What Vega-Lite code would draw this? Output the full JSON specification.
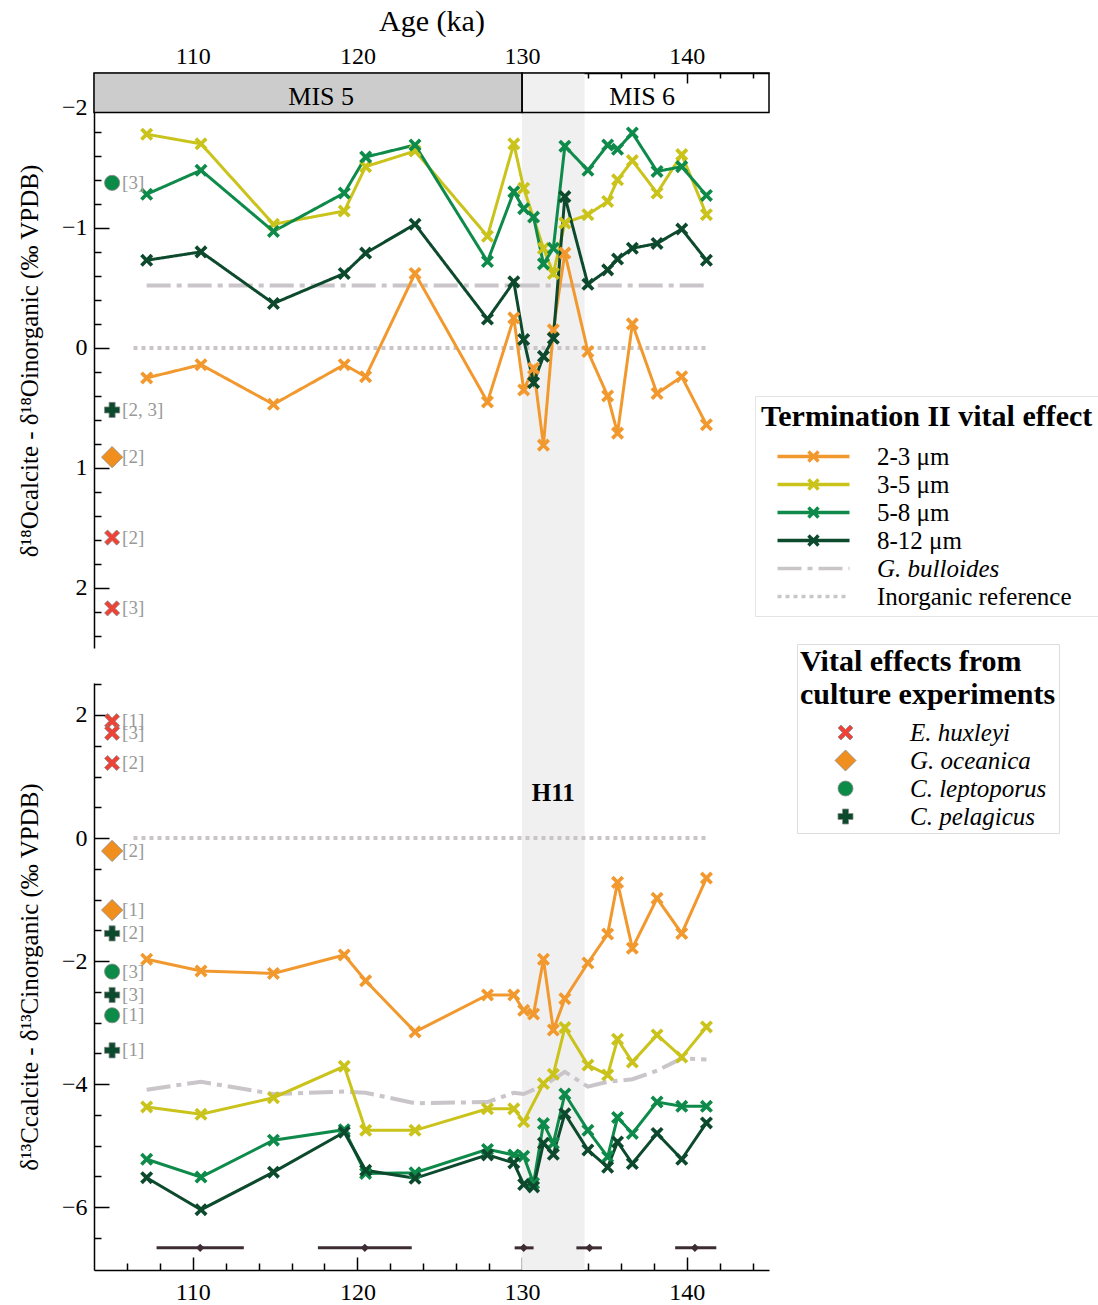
{
"$schema":"https://vega.github.io/schema/vega-lite/v6.json",
"padding":{"left":17,"top":6,"right":0,"bottom":0},
"background":"white",
"bounds":"flush",
"spacing":35,
"config":{
 "font":"Liberation Serif",
 "view":{"stroke":null},
 "axis":{"labelFont":"Liberation Serif","labelFontSize":24,"labelColor":"black","titleFont":"Liberation Serif","titleFontSize":25,"titleFontWeight":"normal","titleColor":"black","domainColor":"black","domainWidth":1.5,"tickColor":"black","tickWidth":1.5,"grid":false,"labelFlush":false},
 "legend":{"titleFont":"Liberation Serif","labelFont":"Liberation Serif","titleColor":"black","labelColor":"black"},
 "text":{"font":"Liberation Serif"}
},
"datasets":{
 "mis":[{"m":"MIS 5","a":104,"a2":130,"y1":-2.29,"y2":-1.96,"lx":117.8,"ly":-2.09},{"m":"MIS 6","a":130,"a2":145,"y1":-2.29,"y2":-1.96,"lx":137.3,"ly":-2.09}],
 "band":[{"a":130,"a2":133.8,"y1":-2.29,"y2":2.8}],
 "oref":[{"a":107.2,"s":"G. bulloides","v":-0.52},{"a":141.2,"s":"G. bulloides","v":-0.52},{"a":106.4,"s":"Inorganic reference","v":0},{"a":141.3,"s":"Inorganic reference","v":0}],
 "o":[
 {"a":107.2,"s":"2-3 μm","v":0.25},{"a":110.5,"s":"2-3 μm","v":0.14},{"a":114.9,"s":"2-3 μm","v":0.47},{"a":119.2,"s":"2-3 μm","v":0.14},{"a":120.5,"s":"2-3 μm","v":0.24},{"a":123.5,"s":"2-3 μm","v":-0.62},{"a":127.9,"s":"2-3 μm","v":0.45},{"a":129.5,"s":"2-3 μm","v":-0.25},{"a":130.1,"s":"2-3 μm","v":0.35},{"a":130.7,"s":"2-3 μm","v":0.17},{"a":131.3,"s":"2-3 μm","v":0.81},{"a":131.9,"s":"2-3 μm","v":-0.15},{"a":132.6,"s":"2-3 μm","v":-0.79},{"a":134.0,"s":"2-3 μm","v":0.03},{"a":135.2,"s":"2-3 μm","v":0.40},{"a":135.8,"s":"2-3 μm","v":0.71},{"a":136.7,"s":"2-3 μm","v":-0.20},{"a":138.2,"s":"2-3 μm","v":0.38},{"a":139.7,"s":"2-3 μm","v":0.24},{"a":141.2,"s":"2-3 μm","v":0.64},
 {"a":107.2,"s":"3-5 μm","v":-1.78},{"a":110.5,"s":"3-5 μm","v":-1.70},{"a":114.9,"s":"3-5 μm","v":-1.03},{"a":119.2,"s":"3-5 μm","v":-1.14},{"a":120.5,"s":"3-5 μm","v":-1.51},{"a":123.5,"s":"3-5 μm","v":-1.64},{"a":127.9,"s":"3-5 μm","v":-0.93},{"a":129.5,"s":"3-5 μm","v":-1.70},{"a":130.1,"s":"3-5 μm","v":-1.33},{"a":131.3,"s":"3-5 μm","v":-0.83},{"a":131.9,"s":"3-5 μm","v":-0.62},{"a":132.6,"s":"3-5 μm","v":-1.04},{"a":134.0,"s":"3-5 μm","v":-1.11},{"a":135.2,"s":"3-5 μm","v":-1.22},{"a":135.8,"s":"3-5 μm","v":-1.40},{"a":136.7,"s":"3-5 μm","v":-1.56},{"a":138.2,"s":"3-5 μm","v":-1.29},{"a":139.7,"s":"3-5 μm","v":-1.61},{"a":141.2,"s":"3-5 μm","v":-1.11},
 {"a":107.2,"s":"5-8 μm","v":-1.28},{"a":110.5,"s":"5-8 μm","v":-1.48},{"a":114.9,"s":"5-8 μm","v":-0.97},{"a":119.2,"s":"5-8 μm","v":-1.29},{"a":120.5,"s":"5-8 μm","v":-1.59},{"a":123.5,"s":"5-8 μm","v":-1.69},{"a":127.9,"s":"5-8 μm","v":-0.72},{"a":129.5,"s":"5-8 μm","v":-1.30},{"a":130.1,"s":"5-8 μm","v":-1.16},{"a":130.7,"s":"5-8 μm","v":-1.09},{"a":131.3,"s":"5-8 μm","v":-0.70},{"a":131.9,"s":"5-8 μm","v":-0.83},{"a":132.6,"s":"5-8 μm","v":-1.68},{"a":134.0,"s":"5-8 μm","v":-1.48},{"a":135.2,"s":"5-8 μm","v":-1.69},{"a":135.8,"s":"5-8 μm","v":-1.655},{"a":136.7,"s":"5-8 μm","v":-1.79},{"a":138.2,"s":"5-8 μm","v":-1.47},{"a":139.7,"s":"5-8 μm","v":-1.51},{"a":141.2,"s":"5-8 μm","v":-1.27},
 {"a":107.2,"s":"8-12 μm","v":-0.73},{"a":110.5,"s":"8-12 μm","v":-0.80},{"a":114.9,"s":"8-12 μm","v":-0.37},{"a":119.2,"s":"8-12 μm","v":-0.62},{"a":120.5,"s":"8-12 μm","v":-0.79},{"a":123.5,"s":"8-12 μm","v":-1.03},{"a":127.9,"s":"8-12 μm","v":-0.24},{"a":129.5,"s":"8-12 μm","v":-0.55},{"a":130.1,"s":"8-12 μm","v":-0.07},{"a":130.7,"s":"8-12 μm","v":0.29},{"a":131.3,"s":"8-12 μm","v":0.07},{"a":131.9,"s":"8-12 μm","v":-0.08},{"a":132.6,"s":"8-12 μm","v":-1.26},{"a":134.0,"s":"8-12 μm","v":-0.53},{"a":135.2,"s":"8-12 μm","v":-0.65},{"a":135.8,"s":"8-12 μm","v":-0.74},{"a":136.7,"s":"8-12 μm","v":-0.83},{"a":138.2,"s":"8-12 μm","v":-0.87},{"a":139.7,"s":"8-12 μm","v":-0.99},{"a":141.2,"s":"8-12 μm","v":-0.73}
 ],
 "cref":[{"a":107.2,"s":"G. bulloides","v":-4.09},{"a":110.5,"s":"G. bulloides","v":-3.96},{"a":114.9,"s":"G. bulloides","v":-4.16},{"a":119.2,"s":"G. bulloides","v":-4.12},{"a":120.5,"s":"G. bulloides","v":-4.14},{"a":123.5,"s":"G. bulloides","v":-4.31},{"a":127.9,"s":"G. bulloides","v":-4.29},{"a":129.5,"s":"G. bulloides","v":-4.14},{"a":130.1,"s":"G. bulloides","v":-4.16},{"a":131.3,"s":"G. bulloides","v":-4.02},{"a":131.9,"s":"G. bulloides","v":-3.92},{"a":132.6,"s":"G. bulloides","v":-3.80},{"a":134.0,"s":"G. bulloides","v":-4.04},{"a":135.2,"s":"G. bulloides","v":-3.96},{"a":136.7,"s":"G. bulloides","v":-3.92},{"a":138.2,"s":"G. bulloides","v":-3.78},{"a":139.7,"s":"G. bulloides","v":-3.58},{"a":141.2,"s":"G. bulloides","v":-3.60},{"a":106.4,"s":"Inorganic reference","v":0},{"a":141.3,"s":"Inorganic reference","v":0}],
 "c":[
 {"a":107.2,"s":"2-3 μm","v":-1.97},{"a":110.5,"s":"2-3 μm","v":-2.16},{"a":114.9,"s":"2-3 μm","v":-2.20},{"a":119.2,"s":"2-3 μm","v":-1.90},{"a":120.5,"s":"2-3 μm","v":-2.32},{"a":123.5,"s":"2-3 μm","v":-3.15},{"a":127.9,"s":"2-3 μm","v":-2.55},{"a":129.5,"s":"2-3 μm","v":-2.55},{"a":130.1,"s":"2-3 μm","v":-2.80},{"a":130.7,"s":"2-3 μm","v":-2.86},{"a":131.3,"s":"2-3 μm","v":-1.97},{"a":131.9,"s":"2-3 μm","v":-3.12},{"a":132.6,"s":"2-3 μm","v":-2.61},{"a":134.0,"s":"2-3 μm","v":-2.03},{"a":135.2,"s":"2-3 μm","v":-1.56},{"a":135.8,"s":"2-3 μm","v":-0.72},{"a":136.7,"s":"2-3 μm","v":-1.79},{"a":138.2,"s":"2-3 μm","v":-0.98},{"a":139.7,"s":"2-3 μm","v":-1.55},{"a":141.2,"s":"2-3 μm","v":-0.65},
 {"a":107.2,"s":"3-5 μm","v":-4.37},{"a":110.5,"s":"3-5 μm","v":-4.49},{"a":114.9,"s":"3-5 μm","v":-4.22},{"a":119.2,"s":"3-5 μm","v":-3.71},{"a":120.5,"s":"3-5 μm","v":-4.75},{"a":123.5,"s":"3-5 μm","v":-4.75},{"a":127.9,"s":"3-5 μm","v":-4.40},{"a":129.5,"s":"3-5 μm","v":-4.40},{"a":130.1,"s":"3-5 μm","v":-4.61},{"a":131.3,"s":"3-5 μm","v":-3.99},{"a":131.9,"s":"3-5 μm","v":-3.84},{"a":132.6,"s":"3-5 μm","v":-3.08},{"a":134.0,"s":"3-5 μm","v":-3.69},{"a":135.2,"s":"3-5 μm","v":-3.85},{"a":135.8,"s":"3-5 μm","v":-3.27},{"a":136.7,"s":"3-5 μm","v":-3.64},{"a":138.2,"s":"3-5 μm","v":-3.20},{"a":139.7,"s":"3-5 μm","v":-3.56},{"a":141.2,"s":"3-5 μm","v":-3.07},
 {"a":107.2,"s":"5-8 μm","v":-5.22},{"a":110.5,"s":"5-8 μm","v":-5.51},{"a":114.9,"s":"5-8 μm","v":-4.91},{"a":119.2,"s":"5-8 μm","v":-4.74},{"a":120.5,"s":"5-8 μm","v":-5.45},{"a":123.5,"s":"5-8 μm","v":-5.44},{"a":127.9,"s":"5-8 μm","v":-5.06},{"a":129.5,"s":"5-8 μm","v":-5.15},{"a":130.1,"s":"5-8 μm","v":-5.17},{"a":130.7,"s":"5-8 μm","v":-5.61},{"a":131.3,"s":"5-8 μm","v":-4.64},{"a":131.9,"s":"5-8 μm","v":-4.96},{"a":132.6,"s":"5-8 μm","v":-4.16},{"a":134.0,"s":"5-8 μm","v":-4.75},{"a":135.2,"s":"5-8 μm","v":-5.18},{"a":135.8,"s":"5-8 μm","v":-4.54},{"a":136.7,"s":"5-8 μm","v":-4.80},{"a":138.2,"s":"5-8 μm","v":-4.29},{"a":139.7,"s":"5-8 μm","v":-4.36},{"a":141.2,"s":"5-8 μm","v":-4.36},
 {"a":107.2,"s":"8-12 μm","v":-5.52},{"a":110.5,"s":"8-12 μm","v":-6.04},{"a":114.9,"s":"8-12 μm","v":-5.43},{"a":119.2,"s":"8-12 μm","v":-4.78},{"a":120.5,"s":"8-12 μm","v":-5.40},{"a":123.5,"s":"8-12 μm","v":-5.53},{"a":127.9,"s":"8-12 μm","v":-5.15},{"a":129.5,"s":"8-12 μm","v":-5.28},{"a":130.1,"s":"8-12 μm","v":-5.63},{"a":130.7,"s":"8-12 μm","v":-5.67},{"a":131.3,"s":"8-12 μm","v":-4.96},{"a":131.9,"s":"8-12 μm","v":-5.14},{"a":132.6,"s":"8-12 μm","v":-4.48},{"a":134.0,"s":"8-12 μm","v":-5.07},{"a":135.2,"s":"8-12 μm","v":-5.35},{"a":135.8,"s":"8-12 μm","v":-4.94},{"a":136.7,"s":"8-12 μm","v":-5.29},{"a":138.2,"s":"8-12 μm","v":-4.80},{"a":139.7,"s":"8-12 μm","v":-5.22},{"a":141.2,"s":"8-12 μm","v":-4.63}
 ],
 "cult_o":[{"a":105.1,"sp":"C. leptoporus","ref":"[3]","v":-1.375},{"a":105.1,"sp":"C. pelagicus","ref":"[2, 3]","v":0.517},{"a":105.1,"sp":"G. oceanica","ref":"[2]","v":0.91},{"a":105.1,"sp":"E. huxleyi","ref":"[2]","v":1.58},{"a":105.1,"sp":"E. huxleyi","ref":"[3]","v":2.17}],
 "cult_c":[{"a":105.1,"sp":"E. huxleyi","ref":"[1]","v":1.90},{"a":105.1,"sp":"E. huxleyi","ref":"[3]","v":1.71},{"a":105.1,"sp":"E. huxleyi","ref":"[2]","v":1.22},{"a":105.1,"sp":"G. oceanica","ref":"[2]","v":-0.21},{"a":105.1,"sp":"G. oceanica","ref":"[1]","v":-1.17},{"a":105.1,"sp":"C. pelagicus","ref":"[2]","v":-1.55},{"a":105.1,"sp":"C. leptoporus","ref":"[3]","v":-2.17},{"a":105.1,"sp":"C. pelagicus","ref":"[3]","v":-2.55},{"a":105.1,"sp":"C. leptoporus","ref":"[1]","v":-2.88},{"a":105.1,"sp":"C. pelagicus","ref":"[1]","v":-3.45}],
 "ages":[{"a":110.45,"lo":107.8,"hi":113.1,"v":-6.66},{"a":120.45,"lo":117.6,"hi":123.3,"v":-6.66},{"a":130.1,"lo":129.55,"hi":130.7,"v":-6.66},{"a":134.1,"lo":133.3,"hi":134.85,"v":-6.66},{"a":140.5,"lo":139.3,"hi":141.8,"v":-6.66}],
 "h11":[{"a":131.9,"v":0.73,"t":"H11"}]
},
"resolve":{"scale":{"x":"independent","y":"independent","color":"independent","fill":"independent","shape":"independent","strokeDash":"independent"}},
"vconcat":[
{
 "width":675,"height":575,
 "resolve":{"scale":{"shape":"independent","color":"independent","fill":"independent","strokeDash":"independent"},"axis":{"x":"independent","y":"independent"}},
 "layer":[
  {"data":{"name":"band"},"mark":{"type":"rect","color":"#f0f0f0"},
   "encoding":{"x":{"field":"a","type":"quantitative","scale":{"domain":[104,145],"nice":false,"zero":false},
     "axis":{"orient":"top","title":"Age (ka)","titleFontSize":30,"values":[110,120,130,140],"format":"d","labelOverlap":false,"tickSize":-10,"labelPadding":15,"titlePadding":8}},
    "x2":{"field":"a2"},
    "y":{"field":"y1","type":"quantitative","scale":{"domain":[-2.29,2.5],"reverse":true,"nice":false,"zero":false},"axis":null},
    "y2":{"field":"y2"}}},
  {"data":{"name":"mis"},"transform":[{"filter":"datum.m == 'MIS 5'"}],"mark":{"type":"rect","color":"#cccccc"},
   "encoding":{"x":{"field":"a","type":"quantitative","axis":{"orient":"top","title":null,"labels":false,"domain":false,"values":[106,108,112,114,116,118,122,124,126,128,132,134,136,138,142,144],"tickSize":-5}},"x2":{"field":"a2"},
    "y":{"field":"y1","type":"quantitative","scale":{"domain":[-2.29,2.5],"reverse":true,"nice":false,"zero":false},
     "axis":{"orient":"left","title":"δ¹⁸Ocalcite - δ¹⁸Oinorganic (‰ VPDB)","values":[-2,-1,0,1,2],"format":".0f","labelOverlap":false,"tickSize":-15,"labelPadding":22,"titlePadding":19}},
    "y2":{"field":"y2"}}},
  {"layer":[
    {"data":{"name":"oref"},"transform":[{"filter":"false"}],"mark":{"type":"point","filled":false,"opacity":1},
     "encoding":{
      "color":{"field":"s","type":"nominal","scale":{"domain":["2-3 μm","3-5 μm","5-8 μm","8-12 μm","G. bulloides","Inorganic reference"],"range":["#f1992e","#c9c31b","#0e8a4a","#0d4a2d","#c9c5c9","#c9c5c9"]},
       "legend":{"title":"Termination II vital effect","orient":"none","legendX":661,"legendY":323,"titleFontSize":30,"titleFontWeight":"bold","labelFontSize":25,"symbolSize":400,"symbolStrokeWidth":3.5,"symbolOffset":40,"labelOffset":51,"rowPadding":2,"titlePadding":12,"padding":6,"strokeColor":"#e4e4e4","titleLimit":500,"labelLimit":300,"symbolOpacity":1,"labelFontStyle":{"expr":"datum.label === 'G. bulloides' ? 'italic' : 'normal'"}}},
      "strokeDash":{"field":"s","type":"nominal","scale":{"domain":["2-3 μm","3-5 μm","5-8 μm","8-12 μm","G. bulloides","Inorganic reference"],"range":[[1,0],[1,0],[1,0],[1,0],[24,6,5,6],[4,4]]},
       "legend":{"title":"Termination II vital effect","orient":"none","legendX":661,"legendY":323}},
      "shape":{"field":"s","type":"nominal","scale":{"domain":["2-3 μm","3-5 μm","5-8 μm","8-12 μm","G. bulloides","Inorganic reference"],"range":["M-3.6,0L3.6,0M-0.5,-0.5L0.5,0.5M-0.5,0.5L0.5,-0.5","M-3.6,0L3.6,0M-0.5,-0.5L0.5,0.5M-0.5,0.5L0.5,-0.5","M-3.6,0L3.6,0M-0.5,-0.5L0.5,0.5M-0.5,0.5L0.5,-0.5","M-3.6,0L3.6,0M-0.5,-0.5L0.5,0.5M-0.5,0.5L0.5,-0.5","M-3.6,0L3.6,0","M-3.6,0L3.6,0"]},
       "legend":{"title":"Termination II vital effect","orient":"none","legendX":661,"legendY":323}}}},
    {"data":{"name":"oref"},"mark":{"type":"line","strokeWidth":4},
     "encoding":{"x":{"field":"a","type":"quantitative","axis":null},"y":{"field":"v","type":"quantitative","axis":null},
      "color":{"field":"s","type":"nominal","legend":null,"scale":{"domain":["2-3 μm","3-5 μm","5-8 μm","8-12 μm","G. bulloides","Inorganic reference"],"range":["#f1992e","#c9c31b","#0e8a4a","#0d4a2d","#c9c5c9","#c9c5c9"]}},
      "strokeDash":{"field":"s","type":"nominal","legend":null,"scale":{"domain":["2-3 μm","3-5 μm","5-8 μm","8-12 μm","G. bulloides","Inorganic reference"],"range":[[1,0],[1,0],[1,0],[1,0],[24,6,5,6],[4,4]]}}}},
    {"data":{"name":"o"},"mark":{"type":"line","strokeWidth":3},
     "encoding":{"x":{"field":"a","type":"quantitative","axis":null},"y":{"field":"v","type":"quantitative","axis":null},
      "color":{"field":"s","type":"nominal","legend":null,"scale":{"domain":["2-3 μm","3-5 μm","5-8 μm","8-12 μm","G. bulloides","Inorganic reference"],"range":["#f1992e","#c9c31b","#0e8a4a","#0d4a2d","#c9c5c9","#c9c5c9"]}},
      "strokeDash":{"field":"s","type":"nominal","legend":null,"scale":{"domain":["2-3 μm","3-5 μm","5-8 μm","8-12 μm","G. bulloides","Inorganic reference"],"range":[[1,0],[1,0],[1,0],[1,0],[24,6,5,6],[4,4]]}}}},
    {"data":{"name":"o"},"mark":{"type":"point","shape":"M-1,-0.6L-0.6,-1L0,-0.4L0.6,-1L1,-0.6L0.4,0L1,0.6L0.6,1L0,0.4L-0.6,1L-1,0.6L-0.4,0Z","filled":true,"size":170,"opacity":1},
     "encoding":{"x":{"field":"a","type":"quantitative","axis":null},"y":{"field":"v","type":"quantitative","axis":null},
      "color":{"field":"s","type":"nominal","legend":null,"scale":{"domain":["2-3 μm","3-5 μm","5-8 μm","8-12 μm","G. bulloides","Inorganic reference"],"range":["#f1992e","#c9c31b","#0e8a4a","#0d4a2d","#c9c5c9","#c9c5c9"]}}}}
  ]},
  {"data":{"name":"mis"},"mark":{"type":"rect","fill":"white","fillOpacity":0,"stroke":"black","strokeWidth":1.5},
   "encoding":{"x":{"field":"a","type":"quantitative","axis":null},"x2":{"field":"a2"},"y":{"field":"y1","type":"quantitative","axis":{"orient":"left","title":null,"labels":false,"domain":false,"values":[-2.2,-1.8,-1.6,-1.4,-1.2,-0.8,-0.6,-0.4,-0.2,0.2,0.4,0.6,0.8,1.2,1.4,1.6,1.8,2.2,2.4],"tickSize":-7}},"y2":{"field":"y2"}}},
  {"data":{"name":"mis"},"mark":{"type":"text","fontSize":26,"color":"black","baseline":"middle"},
   "encoding":{"x":{"field":"lx","type":"quantitative","axis":null},"y":{"field":"ly","type":"quantitative","axis":null},"text":{"field":"m"}}},
  {"layer":[
    {"data":{"name":"cult_o"},"mark":{"type":"point","filled":true,"size":230,"opacity":1,"stroke":"#8a8a8a","strokeWidth":0.8},
     "encoding":{"x":{"field":"a","type":"quantitative","axis":null},"y":{"field":"v","type":"quantitative","axis":null},
      "fill":{"field":"sp","type":"nominal","scale":{"domain":["E. huxleyi","G. oceanica","C. leptoporus","C. pelagicus"],"range":["#ef4136","#f08f1e","#0c8a47","#0b4a2c"]},
       "legend":{"title":["Vital effects from","culture experiments"],"orient":"none","legendX":703,"legendY":571,"titleFontSize":30,"titleFontWeight":"bold","titleLineHeight":33,"labelFontSize":25,"labelFontStyle":"italic","symbolSize":225,"symbolOffset":33,"labelOffset":52,"rowPadding":2,"titlePadding":10,"padding":3,"strokeColor":"#dddddd","titleLimit":500,"labelLimit":300,"symbolOpacity":1,"symbolStrokeColor":"#8a8a8a","symbolStrokeWidth":0.8}},
      "shape":{"field":"sp","type":"nominal","scale":{"domain":["E. huxleyi","G. oceanica","C. leptoporus","C. pelagicus"],"range":["M-1,-0.6L-0.6,-1L0,-0.4L0.6,-1L1,-0.6L0.4,0L1,0.6L0.6,1L0,0.4L-0.6,1L-1,0.6L-0.4,0Z","M0,-1.4L1.4,0L0,1.4L-1.4,0Z","circle","cross"]},
       "legend":{"title":["Vital effects from","culture experiments"],"orient":"none","legendX":703,"legendY":571}}}},
    {"data":{"name":"cult_o"},"mark":{"type":"text","align":"left","baseline":"middle","dx":10,"fontSize":19,"color":"#999999"},
     "encoding":{"x":{"field":"a","type":"quantitative","axis":null},"y":{"field":"v","type":"quantitative","axis":null},"text":{"field":"ref"}}}
  ]}
 ]
},
{
 "width":675,"height":587,
 "resolve":{"axis":{"x":"independent","y":"independent"}},
 "layer":[
  {"data":{"name":"band"},"mark":{"type":"rect","color":"#f0f0f0"},
   "encoding":{"x":{"field":"a","type":"quantitative","scale":{"domain":[104,145],"nice":false,"zero":false},
     "axis":{"orient":"bottom","title":null,"values":[110,120,130,140],"format":"d","labelOverlap":false,"tickSize":-13,"labelPadding":23}},
    "x2":{"field":"a2"}}},
  {"data":{"name":"h11"},"mark":{"type":"text","fontSize":25,"fontWeight":"bold","color":"black","baseline":"middle"},
   "encoding":{"x":{"field":"a","type":"quantitative","axis":null},
    "y":{"field":"v","type":"quantitative","scale":{"domain":[-7.02,2.52],"nice":false,"zero":false},
     "axis":{"orient":"left","title":"δ¹³Ccalcite - δ¹³Cinorganic (‰ VPDB)","values":[-6,-4,-2,0,2],"format":".0f","labelOverlap":false,"tickSize":-15,"labelPadding":22,"titlePadding":19}},
    "text":{"field":"t"}}},
  {"data":{"name":"cref"},"mark":{"type":"line","strokeWidth":4},
   "encoding":{"x":{"field":"a","type":"quantitative","axis":{"orient":"bottom","title":null,"labels":false,"domain":false,"values":[106,108,112,114,116,118,122,124,126,128,132,134,136,138,142,144],"tickSize":-7}},
    "y":{"field":"v","type":"quantitative","axis":{"orient":"left","title":null,"labels":false,"domain":false,"values":[-6.5,-5.5,-5,-4.5,-3.5,-3,-2.5,-1.5,-1,-0.5,0.5,1,1.5,2.5],"tickSize":-7}},
    "color":{"field":"s","type":"nominal","legend":null,"scale":{"domain":["2-3 μm","3-5 μm","5-8 μm","8-12 μm","G. bulloides","Inorganic reference"],"range":["#f1992e","#c9c31b","#0e8a4a","#0d4a2d","#c9c5c9","#c9c5c9"]}},
    "strokeDash":{"field":"s","type":"nominal","legend":null,"scale":{"domain":["2-3 μm","3-5 μm","5-8 μm","8-12 μm","G. bulloides","Inorganic reference"],"range":[[1,0],[1,0],[1,0],[1,0],[24,6,5,6],[4,4]]}}}},
  {"data":{"name":"c"},"mark":{"type":"line","strokeWidth":3},
   "encoding":{"x":{"field":"a","type":"quantitative","axis":null},"y":{"field":"v","type":"quantitative","axis":null},
    "color":{"field":"s","type":"nominal","legend":null,"scale":{"domain":["2-3 μm","3-5 μm","5-8 μm","8-12 μm","G. bulloides","Inorganic reference"],"range":["#f1992e","#c9c31b","#0e8a4a","#0d4a2d","#c9c5c9","#c9c5c9"]}}}},
  {"data":{"name":"c"},"mark":{"type":"point","shape":"M-1,-0.6L-0.6,-1L0,-0.4L0.6,-1L1,-0.6L0.4,0L1,0.6L0.6,1L0,0.4L-0.6,1L-1,0.6L-0.4,0Z","filled":true,"size":170,"opacity":1},
   "encoding":{"x":{"field":"a","type":"quantitative","axis":null},"y":{"field":"v","type":"quantitative","axis":null},
    "color":{"field":"s","type":"nominal","legend":null,"scale":{"domain":["2-3 μm","3-5 μm","5-8 μm","8-12 μm","G. bulloides","Inorganic reference"],"range":["#f1992e","#c9c31b","#0e8a4a","#0d4a2d","#c9c5c9","#c9c5c9"]}}}},
  {"data":{"name":"ages"},"mark":{"type":"rule","color":"#3e2c35","strokeWidth":3},
   "encoding":{"x":{"field":"lo","type":"quantitative","axis":null},"x2":{"field":"hi"},"y":{"field":"v","type":"quantitative","axis":null}}},
  {"data":{"name":"ages"},"mark":{"type":"point","shape":"diamond","filled":true,"size":70,"color":"#3e2c35","opacity":1},
   "encoding":{"x":{"field":"a","type":"quantitative","axis":null},"y":{"field":"v","type":"quantitative","axis":null}}},
  {"data":{"name":"cult_c"},"mark":{"type":"point","filled":true,"size":230,"opacity":1,"stroke":"#8a8a8a","strokeWidth":0.8},
   "encoding":{"x":{"field":"a","type":"quantitative","axis":null},"y":{"field":"v","type":"quantitative","axis":null},
    "fill":{"field":"sp","type":"nominal","legend":null,"scale":{"domain":["E. huxleyi","G. oceanica","C. leptoporus","C. pelagicus"],"range":["#ef4136","#f08f1e","#0c8a47","#0b4a2c"]}},
    "shape":{"field":"sp","type":"nominal","legend":null,"scale":{"domain":["E. huxleyi","G. oceanica","C. leptoporus","C. pelagicus"],"range":["M-1,-0.6L-0.6,-1L0,-0.4L0.6,-1L1,-0.6L0.4,0L1,0.6L0.6,1L0,0.4L-0.6,1L-1,0.6L-0.4,0Z","M0,-1.4L1.4,0L0,1.4L-1.4,0Z","circle","cross"]}}}},
  {"data":{"name":"cult_c"},"mark":{"type":"text","align":"left","baseline":"middle","dx":10,"fontSize":19,"color":"#999999"},
   "encoding":{"x":{"field":"a","type":"quantitative","axis":null},"y":{"field":"v","type":"quantitative","axis":null},"text":{"field":"ref"}}}
 ]
}
]
}
